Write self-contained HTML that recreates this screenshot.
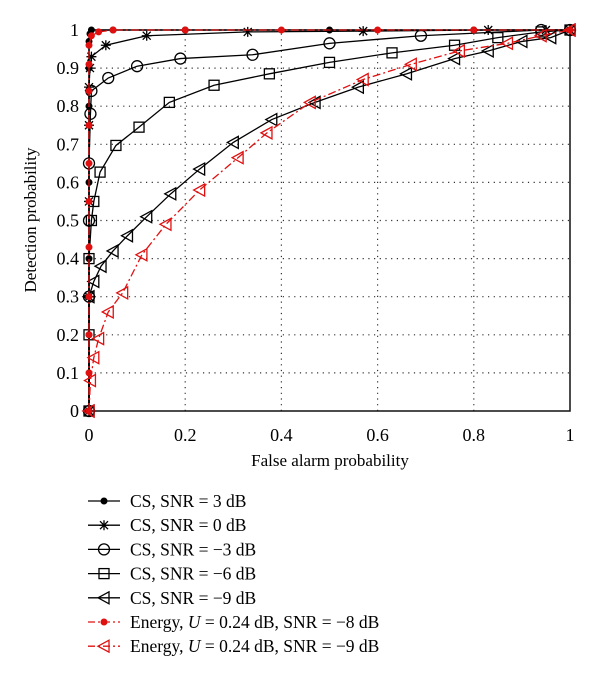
<!DOCTYPE html>
<html><head><meta charset="utf-8"><style>
html,body{margin:0;padding:0;background:#fff}
svg{display:block;font-family:"Liberation Serif",serif}
</style></head><body>
<svg id="c" width="600" height="682" viewBox="0 0 600 682"></svg>
<script>
const xTicks=[0,0.2,0.4,0.6,0.8,1];
const yTicks=[0,0.1,0.2,0.3,0.4,0.5,0.6,0.7,0.8,0.9,1];
const xTickLabels=["0","0.2","0.4","0.6","0.8","1"];
const yTickLabels=["0","0.1","0.2","0.3","0.4","0.5","0.6","0.7","0.8","0.9","1"];
const seriesNames=["CS, SNR = 3 dB","CS, SNR = 0 dB","CS, SNR = \u22123 dB","CS, SNR = \u22126 dB","CS, SNR = \u22129 dB","Energy, U = 0.24 dB, SNR = \u22128 dB","Energy, U = 0.24 dB, SNR = \u22129 dB"];
const cs3x=[0,0,0,0,0,0,0,0.002,0.005,0.05,0.2,0.5,0.8,1];
const cs3y=[0,0.2,0.4,0.6,0.8,0.9,0.97,0.99,1,1,1,1,1,1];
const cs0x=[0,0,0,0,0,0.002,0.005,0.035,0.12,0.33,0.57,0.83,0.95,1];
const cs0y=[0,0.3,0.55,0.75,0.85,0.9,0.93,0.96,0.985,0.995,0.997,1,1,1];
const csm3x=[0,0,0,0,0.003,0.005,0.04,0.1,0.19,0.34,0.5,0.69,0.94,1];
const csm3y=[0,0.3,0.5,0.65,0.78,0.84,0.874,0.905,0.925,0.935,0.965,0.985,1,1];
const csm6x=[0,0,0,0.005,0.01,0.023,0.056,0.104,0.167,0.26,0.375,0.5,0.63,0.76,0.85,0.94,1];
const csm6y=[0,0.2,0.4,0.5,0.55,0.627,0.697,0.745,0.81,0.855,0.885,0.915,0.94,0.96,0.98,0.995,1];
const csm9x=[0,0,0.01,0.025,0.05,0.08,0.12,0.17,0.23,0.3,0.38,0.47,0.56,0.66,0.76,0.83,0.9,0.96,1];
const csm9y=[0,0.3,0.34,0.38,0.42,0.46,0.51,0.57,0.635,0.705,0.765,0.81,0.85,0.885,0.925,0.945,0.97,0.98,1];
const en8x=[0,0,0,0,0,0,0,0,0,0,0,0.005,0.02,0.05,0.2,0.4,0.6,0.8,1];
const en8y=[0,0.1,0.2,0.3,0.43,0.55,0.65,0.75,0.84,0.91,0.96,0.985,0.995,1,1,1,1,1,1];
const en9x=[0,0.003,0.01,0.02,0.04,0.07,0.11,0.16,0.23,0.31,0.37,0.46,0.57,0.67,0.77,0.87,0.94,1];
const en9y=[0,0.08,0.14,0.19,0.26,0.31,0.41,0.49,0.58,0.665,0.73,0.81,0.87,0.91,0.945,0.965,0.985,1];

const X0=89,X1=570,Y0=411,Y1=30;
const sx=v=>X0+v*(X1-X0), sy=v=>Y0-v*(Y0-Y1);
const svg=document.getElementById('c');const NS='http://www.w3.org/2000/svg';
function mk(t,a,p){const e=document.createElementNS(NS,t);for(const k in a)e.setAttribute(k,a[k]);(p||svg).appendChild(e);return e;}
xTicks.forEach((t,i)=>{
 if(i>0&&i<xTicks.length-1){const g=mk('line',{x1:sx(t),x2:sx(t),y1:Y0,y2:Y1,stroke:'#333','stroke-dasharray':'1.2,4.5','stroke-width':1.2});
 
 }
 const l=mk('text',{x:sx(t),y:Y0+30,'text-anchor':'middle','font-size':18});l.textContent=xTickLabels[i];
 
 
});
yTicks.forEach((t,i)=>{
 if(i>0&&i<yTicks.length-1){const g=mk('line',{x1:X0,x2:X1,y1:sy(t),y2:sy(t),stroke:'#333','stroke-dasharray':'1.2,4.5','stroke-width':1.2});
 
 }
 const l=mk('text',{x:X0-10,y:sy(t)+6,'text-anchor':'end','font-size':18});l.textContent=yTickLabels[i];
 
 
});
const ax=mk('rect',{x:X0,y:Y1,width:X1-X0,height:Y0-Y1,fill:'none',stroke:'#111','stroke-width':1.5});


const xt=mk('text',{x:330,y:466,'text-anchor':'middle','font-size':17});xt.textContent='False alarm probability';


const yt=mk('text',{x:0,y:0,'text-anchor':'middle','font-size':17,transform:'translate(36,220) rotate(-90)'});yt.textContent='Detection probability';



function marker(type,x,y,col,g){
 const s={stroke:col,fill:'none','stroke-width':1.3};
 if(type==='dot')return mk('circle',{cx:x,cy:y,r:3,fill:col,stroke:col},g);
 if(type==='circle')return mk('circle',Object.assign({cx:x,cy:y,r:5.5},s),g);
 if(type==='square')return mk('rect',Object.assign({x:x-5,y:y-5,width:10,height:10},s),g);
 if(type==='tri')return mk('polygon',Object.assign({points:`${x-6},${y} ${x+5},${y-6} ${x+5},${y+6}`},s),g);
 if(type==='star'){const p=`M${x-5},${y}H${x+5}M${x},${y-5}V${y+5}M${x-4},${y-4}L${x+4},${y+4}M${x-4},${y+4}L${x+4},${y-4}`;return mk('path',Object.assign({d:p},s),g);}
}
const series=[
 [cs3x,cs3y,'#000','dot',null,'series-cs-3db'],
 [cs0x,cs0y,'#000','star',null,'series-cs-0db'],
 [csm3x,csm3y,'#000','circle',null,'series-cs-m3db'],
 [csm6x,csm6y,'#000','square',null,'series-cs-m6db'],
 [csm9x,csm9y,'#000','tri',null,'series-cs-m9db'],
 [en8x,en8y,'#e01010','dot','8,3,2,3','series-energy-m8db'],
 [en9x,en9y,'#e01010','tri','8,3,2,3','series-energy-m9db']];
series.forEach(([xs,ys,col,m,dash,name])=>{
 const g=mk('g',{});
 
 
 const pts=xs.map((v,i)=>sx(v)+','+sy(ys[i])).join(' ');
 const a={points:pts,fill:'none',stroke:col,'stroke-width':1.3};if(dash)a['stroke-dasharray']=dash;
 mk('polyline',a,g);
 xs.forEach((v,i)=>{const e=marker(m,sx(v),sy(ys[i]),col,g);
  
  });
});
const lg=mk('g',{});


series.forEach((s,i)=>{
 const y=501+i*24.2;const col=s[2];
 const a={x1:88,x2:120,y1:y,y2:y,stroke:col,'stroke-width':1.3};if(s[4])a['stroke-dasharray']='7,3,2,3';
 mk('line',a,lg);marker(s[3],104,y,col,lg);
 const t=mk('text',{x:130,y:y+6,'font-size':17.5},lg);
 const nm=seriesNames[i];
 if(nm.indexOf('U =')>=0){const parts=nm.split('U');t.appendChild(document.createTextNode(parts[0]));const it=mk('tspan',{'font-style':'italic'},t);it.textContent='U';t.appendChild(document.createTextNode(parts[1]));}
 else t.textContent=nm;
 
 
});
</script>
</body></html>
